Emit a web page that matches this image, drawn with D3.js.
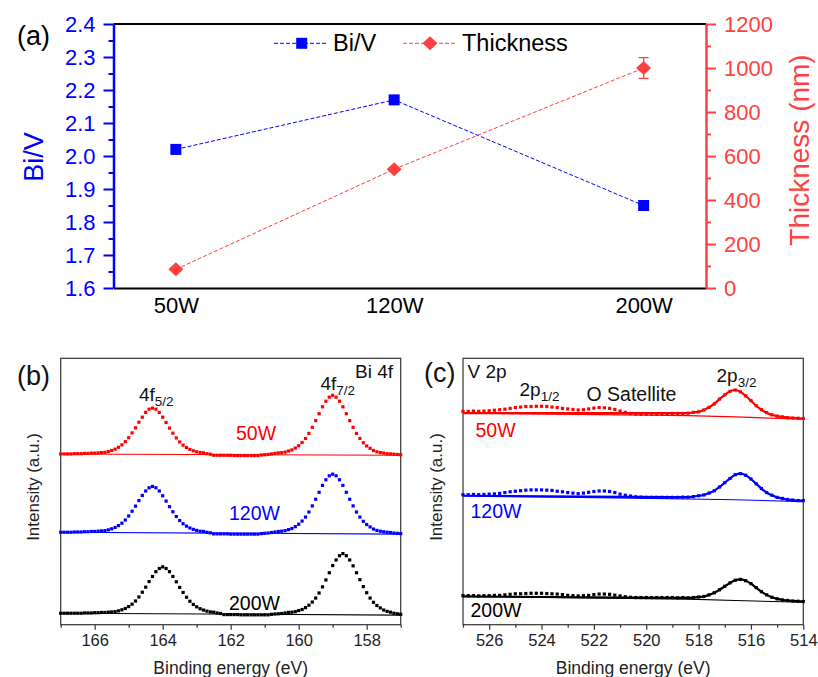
<!DOCTYPE html>
<html>
<head>
<meta charset="utf-8">
<script src="https://cdn.jsdelivr.net/npm/d3@7"></script>
<style>
    html, body { margin: 0; padding: 0; background: #fff; }
    svg { display: block; font-family: "Liberation Sans", Arial, sans-serif; }
</style>
</head>
<body>
<svg id="chart" width="818" height="677"></svg>
<script>
// ---- panel (a) data -------------------------------------------------------
const powers       = [50, 120, 200];
const powerLabels  = ["50W", "120W", "200W"];
const biV          = [2.02, 2.17, 1.85];
const thickness    = [85, 540, 1000];
const thicknessErr = [0, 0, 47];
const biVTicks     = [1.6, 1.7, 1.8, 1.9, 2.0, 2.1, 2.2, 2.3, 2.4];
const thickTicks   = [0, 200, 400, 600, 800, 1000, 1200];

// ---- panel (b) Bi 4f, 167 -> 157 eV every 0.1 eV -------------------------
const biStart = 167;
const biStep  = -0.1;
const bi50W = [
    64.1, 64.1, 64.1, 64.1, 64.2, 64.2, 64.2, 64.3, 64.3, 64.4,
    64.4, 64.5, 64.6, 64.7, 65.0, 65.4, 65.9, 66.6, 67.5, 68.7,
    70.2, 72.0, 73.9, 76.0, 77.9, 79.7, 80.9, 81.3, 80.9, 79.7,
    77.9, 75.9, 73.8, 71.9, 70.1, 68.6, 67.4, 66.5, 65.8, 65.3,
    64.9, 64.6, 64.5, 64.2, 64.0, 63.6, 63.6, 63.6, 63.6, 63.6,
    63.6, 63.5, 63.5, 63.5, 63.5, 63.5, 63.5, 63.5, 63.5, 63.7,
    63.8, 63.9, 64.1, 64.3, 64.5, 64.6, 64.8, 65.2, 65.6, 66.3,
    67.2, 68.4, 69.9, 71.8, 74.1, 76.6, 79.2, 81.8, 83.9, 85.4,
    86.1, 85.4, 83.9, 81.8, 79.2, 76.6, 74.1, 71.8, 69.9, 68.3,
    67.1, 66.2, 65.4, 64.9, 64.6, 64.4, 64.2, 64.1, 64.0, 63.9,
    63.8
];
const bi120W = [
    34.7, 34.7, 34.7, 34.7, 34.8, 34.8, 34.8, 34.9, 34.9, 35.0,
    35.0, 35.1, 35.2, 35.3, 35.6, 36.0, 36.5, 37.2, 38.1, 39.3,
    40.8, 42.6, 44.5, 46.6, 48.5, 50.2, 51.4, 51.9, 51.4, 50.2,
    48.4, 46.4, 44.3, 42.4, 40.6, 39.1, 37.9, 37.0, 36.3, 35.8,
    35.4, 35.1, 35.0, 34.7, 34.5, 34.1, 34.1, 34.1, 34.1, 34.1,
    34.0, 34.0, 34.0, 34.0, 34.0, 34.0, 34.0, 34.0, 34.0, 34.2,
    34.3, 34.4, 34.6, 34.8, 35.0, 35.1, 35.3, 35.7, 36.1, 36.8,
    37.7, 38.9, 40.4, 42.3, 44.6, 47.1, 49.7, 52.3, 54.4, 55.9,
    56.5, 55.9, 54.4, 52.3, 49.7, 47.1, 44.6, 42.3, 40.4, 38.8,
    37.6, 36.7, 35.9, 35.4, 35.1, 34.9, 34.7, 34.6, 34.4, 34.3,
    34.2
];
const bi200W = [
    4.3, 4.3, 4.3, 4.3, 4.3, 4.3, 4.3, 4.4, 4.4, 4.4,
    4.5, 4.5, 4.6, 4.6, 4.7, 4.8, 4.9, 5.2, 5.6, 6.1,
    6.8, 7.7, 8.9, 10.4, 12.2, 14.1, 16.2, 18.1, 19.9, 21.1,
    21.7, 21.1, 19.9, 18.1, 16.1, 14.0, 12.1, 10.3, 8.8, 7.6,
    6.7, 6.0, 5.5, 5.1, 4.8, 4.7, 4.4, 4.2, 3.8, 3.8,
    3.8, 3.8, 3.8, 3.7, 3.7, 3.7, 3.7, 3.7, 3.7, 3.7,
    3.7, 3.7, 3.9, 4.0, 4.1, 4.2, 4.4, 4.6, 4.7, 4.9,
    5.3, 5.7, 6.4, 7.3, 8.5, 10.0, 11.9, 14.2, 16.8, 19.5,
    22.2, 24.3, 25.9, 26.7, 25.9, 24.3, 22.1, 19.5, 16.9, 14.3,
    12.0, 10.0, 8.4, 7.2, 6.3, 5.5, 5.0, 4.7, 4.3, 4.1,
    3.9
];
const biBgEnergy = [167, 157];
const biBg50W    = [64.1, 63.6];
const biBg120W   = [34.7, 34.0];
const biBg200W   = [4.3, 3.6];
const biTicks    = [166, 164, 162, 160, 158];

// ---- panel (c) V 2p, 527 -> 514 eV every 0.2 eV --------------------------
const vStart = 527;
const vStep  = -0.2;
const v50W = [
    80.1, 80.1, 80.2, 80.1, 80.2, 80.3, 80.5, 80.7, 80.9, 81.2,
    81.5, 81.7, 81.9, 81.9, 82.0, 82.0, 81.9, 81.7, 81.5, 81.2,
    81.0, 80.8, 80.6, 80.7, 81.0, 81.3, 81.5, 81.4, 81.2, 80.8,
    80.2, 79.7, 79.3, 79.1, 79.0, 79.0, 79.1, 79.1, 79.2, 79.2,
    79.3, 79.3, 79.3, 79.4, 79.7, 79.9, 80.6, 81.6, 82.9, 84.7,
    86.3, 87.6, 88.1, 87.4, 85.9, 84.1, 82.2, 80.7, 79.6, 78.8,
    78.3, 78.0, 77.7, 77.6, 77.5, 77.4
];
const v120W = [
    48.8, 48.8, 48.9, 48.8, 48.9, 49.0, 49.1, 49.3, 49.6, 49.9,
    50.1, 50.3, 50.5, 50.6, 50.6, 50.6, 50.5, 50.4, 50.1, 49.9,
    49.6, 49.4, 49.2, 49.4, 49.7, 50.0, 50.2, 50.2, 50.0, 49.6,
    49.0, 48.6, 48.3, 48.0, 47.9, 47.8, 47.8, 47.8, 47.8, 47.8,
    47.8, 47.8, 47.9, 47.9, 48.1, 48.4, 48.7, 49.4, 50.3, 51.7,
    53.3, 54.9, 56.3, 56.7, 56.1, 54.7, 52.9, 51.1, 49.6, 48.6,
    47.8, 47.4, 47.0, 46.8, 46.6, 46.6
];
const v200W = [
    10.9, 10.9, 10.9, 10.8, 10.9, 10.9, 11.0, 11.0, 11.2, 11.4,
    11.6, 11.6, 11.7, 11.8, 11.8, 11.8, 11.7, 11.6, 11.5, 11.3,
    11.0, 10.9, 10.8, 10.9, 11.0, 11.3, 11.5, 11.5, 11.4, 11.1,
    10.8, 10.5, 10.3, 10.2, 10.2, 10.2, 10.2, 10.2, 10.2, 10.2,
    10.2, 10.1, 10.2, 10.1, 10.2, 10.4, 10.6, 11.2, 12.0, 13.1,
    14.4, 15.7, 16.7, 17.0, 16.5, 15.4, 13.9, 12.4, 11.2, 10.3,
    9.7, 9.3, 9.1, 8.9, 8.8, 8.7
];
const vBgEnergy = [527, 518.4, 516.6, 514];
const vBg50W    = [79.4, 78.5, 78.0, 77.1];
const vBg120W   = [48.4, 47.2, 46.9, 46.2];
const vBg200W   = [10.6, 9.6, 9.1, 8.4];
const vTicks    = [526, 524, 522, 520, 518, 516, 514];
const vFitFrom  = 43;   // first point of the 2p3/2 fit envelope

const BLUE  = "#0000ff";
const RED_A = "#ff4040";
const RED   = "#ff0000";
const FONT  = "'Liberation Sans', Arial, sans-serif";

const svg = d3.select("#chart");
svg.append("rect").attr("width", 818).attr("height", 677).attr("fill", "#fff");

/**
 * Panel (a): Bi/V ratio and film thickness versus sputter power.
 */
function drawPanelA()
{
    let left = 113.5, right = 706, top = 24, bottom = 288;

    let x  = d3.scaleLinear().domain([30, 220]).range([left, right]);
    let yL = d3.scaleLinear().domain([1.6, 2.4]).range([bottom, top]);
    let yR = d3.scaleLinear().domain([0, 1200]).range([bottom, top]);

    let g = svg.append("g").attr("class", "panel-a");

    // frame top line
    g.append("line")
        .attr("x1", left).attr("x2", right)
        .attr("y1", top).attr("y2", top)
        .attr("stroke", "#000").attr("stroke-width", 2);

    // bottom axis, labels only
    let xAxis = g.append("g")
        .attr("transform", `translate(0,${bottom})`)
        .call(d3.axisBottom(x).tickValues(powers).tickSize(0).tickSizeOuter(0).tickPadding(9)
            .tickFormat((d, i) => powerLabels[i]));
    xAxis.select(".domain").attr("stroke", "#000").attr("stroke-width", 2);
    xAxis.selectAll("text").attr("fill", "#000").style("font", `22px ${FONT}`);

    // left axis (blue)
    let minorL = d3.range(1.65, 2.4, 0.1);
    g.append("g")
        .attr("transform", `translate(${left},0)`)
        .call(d3.axisLeft(yL).tickValues(minorL).tickSize(5).tickSizeOuter(0).tickFormat(""))
        .call(s => s.selectAll("line").attr("stroke", BLUE).attr("stroke-width", 2))
        .call(s => s.select(".domain").remove());
    let lAxis = g.append("g")
        .attr("transform", `translate(${left},0)`)
        .call(d3.axisLeft(yL).tickValues(biVTicks).tickSize(10).tickSizeOuter(0).tickPadding(8)
            .tickFormat(d3.format(".1f")));
    lAxis.select(".domain").attr("stroke", BLUE).attr("stroke-width", 2.5);
    lAxis.selectAll("line").attr("stroke", BLUE).attr("stroke-width", 2);
    lAxis.selectAll("text").attr("fill", BLUE).style("font", `22px ${FONT}`);

    // right axis (red)
    let minorR = d3.range(100, 1200, 200);
    g.append("g")
        .attr("transform", `translate(${right},0)`)
        .call(d3.axisRight(yR).tickValues(minorR).tickSize(5).tickSizeOuter(0).tickFormat(""))
        .call(s => s.selectAll("line").attr("stroke", RED_A).attr("stroke-width", 2))
        .call(s => s.select(".domain").remove());
    let rAxis = g.append("g")
        .attr("transform", `translate(${right},0)`)
        .call(d3.axisRight(yR).tickValues(thickTicks).tickSize(10).tickSizeOuter(0).tickPadding(8)
            .tickFormat(d3.format("d")));
    rAxis.select(".domain").attr("stroke", RED_A).attr("stroke-width", 2.5);
    rAxis.selectAll("line").attr("stroke", RED_A).attr("stroke-width", 2);
    rAxis.selectAll("text").attr("fill", RED_A).style("font", `22px ${FONT}`);

    // axis titles
    g.append("text")
        .attr("transform", "translate(42.5,157) rotate(-90)")
        .attr("text-anchor", "middle")
        .attr("fill", BLUE)
        .style("font", `27px ${FONT}`)
        .text("Bi/V");
    g.append("text")
        .attr("transform", "translate(809,150) rotate(-90)")
        .attr("text-anchor", "middle")
        .attr("fill", RED_A)
        .style("font", `28px ${FONT}`)
        .text("Thickness (nm)");

    g.append("text")
        .attr("x", 17).attr("y", 45)
        .style("font", `27px ${FONT}`)
        .text("(a)");

    // series lines
    let idx = d3.range(powers.length);
    let lineL = d3.line().x(i => x(powers[i])).y(i => yL(biV[i]));
    let lineR = d3.line().x(i => x(powers[i])).y(i => yR(thickness[i]));

    g.append("path")
        .attr("d", lineL(idx))
        .attr("fill", "none").attr("stroke", BLUE)
        .attr("stroke-width", 1).attr("stroke-dasharray", "4,2");
    g.append("path")
        .attr("d", lineR(idx))
        .attr("fill", "none").attr("stroke", RED_A)
        .attr("stroke-width", 1).attr("stroke-dasharray", "4,2");

    // error bars
    idx.filter(i => thicknessErr[i] > 0).forEach(i => {
        let cx = x(powers[i]);
        let y1 = yR(thickness[i] - thicknessErr[i]);
        let y2 = yR(thickness[i] + thicknessErr[i]);
        g.append("path")
            .attr("d", `M${cx},${y1}V${y2}M${cx - 5},${y1}H${cx + 5}M${cx - 5},${y2}H${cx + 5}`)
            .attr("stroke", RED_A).attr("stroke-width", 1.3).attr("fill", "none");
    });

    // markers
    g.selectAll("rect.biv")
        .data(idx)
        .enter()
        .append("rect")
        .attr("class", "biv")
        .attr("x", i => x(powers[i]) - 5.5)
        .attr("y", i => yL(biV[i]) - 5.5)
        .attr("width", 11).attr("height", 11)
        .attr("fill", BLUE);

    let diamond = (cx, cy) => `M${cx - 7.5},${cy}L${cx},${cy - 7}L${cx + 7.5},${cy}L${cx},${cy + 7}Z`;
    g.selectAll("path.thick")
        .data(idx)
        .enter()
        .append("path")
        .attr("class", "thick")
        .attr("d", i => diamond(x(powers[i]), yR(thickness[i])))
        .attr("fill", RED_A);

    // legend
    let lg = g.append("g").attr("class", "legend");
    lg.append("line")
        .attr("x1", 274).attr("x2", 326).attr("y1", 43.3).attr("y2", 43.3)
        .attr("stroke", BLUE).attr("stroke-dasharray", "4,2");
    lg.append("rect")
        .attr("x", 296.2).attr("y", 37.8).attr("width", 11).attr("height", 11)
        .attr("fill", BLUE);
    lg.append("text")
        .attr("x", 333).attr("y", 51)
        .style("font", `23.5px ${FONT}`)
        .text("Bi/V");

    lg.append("line")
        .attr("x1", 403).attr("x2", 455).attr("y1", 43.3).attr("y2", 43.3)
        .attr("stroke", RED_A).attr("stroke-dasharray", "4,2");
    lg.append("path")
        .attr("d", diamond(430, 43.3))
        .attr("fill", RED_A);
    lg.append("text")
        .attr("x", 462).attr("y", 51)
        .style("font", `23.5px ${FONT}`)
        .text("Thickness");
}

/**
 * Draw one XPS panel with three stacked spectra.
 *
 * @param {Object} opt Panel settings
 */
function drawSpectra(opt)
{
    let top = 358.3, bottom = 624.7;
    let x = d3.scaleLinear().domain(opt.domain).range([opt.left, opt.right]);
    let y = d3.scaleLinear().domain([0, 100]).range([bottom, top]);

    let g = svg.append("g");

    // x axis
    let minor = d3.range(opt.domain[0], opt.domain[1] - 0.5, -2);
    g.append("g")
        .attr("transform", `translate(0,${bottom})`)
        .call(d3.axisBottom(x).tickValues(minor).tickSize(3).tickSizeOuter(0).tickFormat(""))
        .call(s => s.selectAll("line").attr("stroke", "#333").attr("stroke-width", 1.2))
        .call(s => s.select(".domain").remove());
    let ax = g.append("g")
        .attr("transform", `translate(0,${bottom})`)
        .call(d3.axisBottom(x).tickValues(opt.ticks).tickSize(5).tickSizeOuter(0).tickPadding(5));
    ax.select(".domain").remove();
    ax.selectAll("line").attr("stroke", "#333").attr("stroke-width", 1.2);
    ax.selectAll("text").attr("fill", "#222").style("font", `16.5px ${FONT}`);

    g.append("rect")
        .attr("x", opt.left).attr("y", top)
        .attr("width", opt.right - opt.left).attr("height", bottom - top)
        .attr("fill", "none").attr("stroke", "#333").attr("stroke-width", 1.2);

    g.append("text")
        .attr("x", (opt.left + opt.right) / 2).attr("y", 673.5)
        .attr("text-anchor", "middle").attr("fill", "#222")
        .style("font", `17.5px ${FONT}`)
        .text("Binding energy (eV)");
    g.append("text")
        .attr("transform", `translate(${opt.left - 21.5},487) rotate(-90)`)
        .attr("text-anchor", "middle").attr("fill", "#222")
        .style("font", `17px ${FONT}`)
        .text("Intensity (a.u.)");

    // spectra
    opt.series.forEach(s => {
        let ex = i => x(opt.start + opt.step * i);

        let bgLine = d3.line().x((d, i) => x(opt.bgEnergy[i])).y(d => y(d));
        g.append("path")
            .attr("d", bgLine(s.bg))
            .attr("fill", "none").attr("stroke", s.color).attr("stroke-width", 1.1);

        // fitted envelope: background on the left, then through the main peak
        if (opt.fitFrom !== undefined) {
            let pts = [[x(opt.bgEnergy[0]), y(s.bg[0])]]
                .concat(s.values.slice(opt.fitFrom).map((d, k) => [ex(opt.fitFrom + k), y(d)]));
            g.append("path")
                .attr("d", d3.line().curve(d3.curveMonotoneX)(pts))
                .attr("fill", "none").attr("stroke", s.color).attr("stroke-width", 2.2);
        }

        g.append("g")
            .selectAll("rect")
            .data(s.values)
            .enter()
            .append("rect")
            .attr("x", (d, i) => ex(i) - 1.6)
            .attr("y", d => y(d) - 1.6)
            .attr("width", 3.2).attr("height", 3.2)
            .attr("fill", s.color);

        g.append("text")
            .attr("x", s.labelX).attr("y", s.labelY)
            .attr("text-anchor", s.anchor)
            .attr("fill", s.color)
            .style("font", `19.5px ${FONT}`)
            .text(s.name);
    });

    // annotations
    opt.notes.forEach(n => {
        let t = g.append("text")
            .attr("x", n.x).attr("y", n.y)
            .attr("fill", "#111")
            .style("font", `${n.size}px ${FONT}`);
        t.append("tspan").text(n.text);
        if (n.sub) {
            t.append("tspan")
                .attr("dy", 5)
                .style("font-size", "13.5px")
                .text(n.sub);
        }
    });
}

drawPanelA();

drawSpectra({
    domain: [167, 157], left: 60.7, right: 400.7,
    ticks: biTicks, start: biStart, step: biStep, bgEnergy: biBgEnergy,
    series: [
        {name: "50W",  values: bi50W,  bg: biBg50W,  color: RED,    labelX: 256, labelY: 439.5, anchor: "middle"},
        {name: "120W", values: bi120W, bg: biBg120W, color: BLUE,   labelX: 254.5, labelY: 520, anchor: "middle"},
        {name: "200W", values: bi200W, bg: biBg200W, color: "#000", labelX: 254.5, labelY: 610, anchor: "middle"}
    ],
    notes: [
        {text: "(b)", x: 17, y: 384.5, size: 27},
        {text: "Bi 4f", x: 355, y: 378.3, size: 19},
        {text: "4f", sub: "5/2", x: 139, y: 400.7, size: 19},
        {text: "4f", sub: "7/2", x: 320.5, y: 390, size: 19}
    ]
});

drawSpectra({
    domain: [527, 514], left: 463, right: 803.3,
    ticks: vTicks, start: vStart, step: vStep, bgEnergy: vBgEnergy, fitFrom: vFitFrom,
    series: [
        {name: "50W",  values: v50W,  bg: vBg50W,  color: RED,    labelX: 475.5, labelY: 436.7, anchor: "start"},
        {name: "120W", values: v120W, bg: vBg120W, color: BLUE,   labelX: 470.5, labelY: 518.3, anchor: "start"},
        {name: "200W", values: v200W, bg: vBg200W, color: "#000", labelX: 470.5, labelY: 616.7, anchor: "start"}
    ],
    notes: [
        {text: "(c)", x: 424, y: 381.5, size: 27},
        {text: "V 2p", x: 467.5, y: 377.7, size: 19},
        {text: "2p", sub: "1/2", x: 519.5, y: 395.7, size: 19},
        {text: "O Satellite", x: 586.5, y: 401, size: 19.5},
        {text: "2p", sub: "3/2", x: 716.5, y: 381.7, size: 19}
    ]
});
</script>
</body>
</html>
